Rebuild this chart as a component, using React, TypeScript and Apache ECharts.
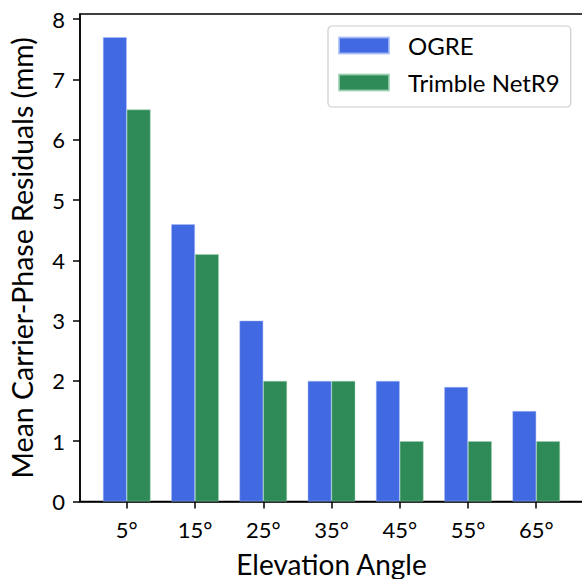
import React, { useEffect, useRef } from "react";
import * as echarts from "echarts";

const categories = ["5°", "15°", "25°", "35°", "45°", "55°", "65°"];
const ogre = [7.7, 4.6, 3.0, 2.0, 2.0, 1.9, 1.5];
const trimble = [6.5, 4.1, 2.0, 2.0, 1.0, 1.0, 1.0];
const seriesNames = ["OGRE", "Trimble NetR9"];
const yTicks = [0, 1, 2, 3, 4, 5, 6, 7, 8];

const FONT = "Lato";

export default function App() {
  const ref = useRef<HTMLDivElement>(null);
  useEffect(() => {
    if (!ref.current) return;
    const chart = echarts.init(ref.current, null, { renderer: "svg" });
    const positions = categories.map((_, i) => i);
    chart.setOption({
      animation: false,
      backgroundColor: "#ffffff",
      textStyle: { fontFamily: FONT, color: "#000" },
      grid: {
        left: 80,
        top: 14,
        right: -1,
        bottom: 77.5,
        show: true,
        borderColor: "#000",
        borderWidth: 1.5,
        containLabel: false,
        outerBoundsMode: "none",
      },
      legend: {
        orient: "vertical",
        left: 328,
        top: 26,
        itemWidth: 50,
        itemHeight: 16,
        itemGap: 13,
        padding: [7.5, 11, 12.5, 10],
        borderColor: "#cccccc",
        borderWidth: 1.2,
        borderRadius: 4,
        icon: "rect",
        textStyle: { fontFamily: FONT, fontSize: 24, color: "#000", padding: [0, 0, 0, 14] },
        data: seriesNames,
      },
      xAxis: {
        type: "value",
        min: -0.685,
        max: 6.685,
        splitLine: { show: false },
        axisLine: { show: true, onZero: false, lineStyle: { color: "#000", width: 1.5 } },
        axisTick: {
          show: true,
          customValues: positions,
          length: 7,
          inside: false,
          lineStyle: { color: "#000", width: 1.5 },
        },
        axisLabel: {
          customValues: positions,
          formatter: (v: number) => categories[Math.round(v)] ?? "",
          fontSize: 22,
          fontFamily: FONT,
          color: "#000",
          margin: 17,
        },
        name: "Elevation Angle",
        nameLocation: "middle",
        nameGap: 48,
        nameTextStyle: { fontSize: 28, fontFamily: FONT, color: "#000" },
      },
      yAxis: {
        type: "value",
        min: 0,
        max: 8.085,
        interval: 1,
        splitLine: { show: false },
        axisLine: { show: true, onZero: false, lineStyle: { color: "#000", width: 1.5 } },
        axisTick: {
          show: true,
          length: 7,
          customValues: yTicks,
          lineStyle: { color: "#000", width: 1.5 },
        },
        axisLabel: {
          fontSize: 22,
          fontFamily: FONT,
          color: "#000",
          margin: 15,
          customValues: yTicks,
        },
        name: "Mean Carrier-Phase Residuals (mm)",
        nameLocation: "middle",
        nameGap: 44,
        nameTextStyle: { fontSize: 28.5, fontFamily: FONT, color: "#000" },
      },
      series: [
        {
          name: seriesNames[0],
          type: "bar",
          barWidth: 23.8,
          barGap: "0%",
          itemStyle: { color: "#4169e1", borderColor: "rgba(170,190,250,0.8)", borderWidth: 0.6 },
          data: ogre.map((v, i) => [positions[i], v]),
        },
        {
          name: seriesNames[1],
          type: "bar",
          barWidth: 23.8,
          barGap: "0%",
          itemStyle: { color: "#2e8b57", borderColor: "rgba(160,210,180,0.8)", borderWidth: 0.6 },
          data: trimble.map((v, i) => [positions[i], v]),
        },
      ],
    });
    return () => chart.dispose();
  }, []);
  return (
    <div
      ref={ref}
      style={{ position: "fixed", left: 0, top: 0, width: 582, height: 579 }}
    />
  );
}
